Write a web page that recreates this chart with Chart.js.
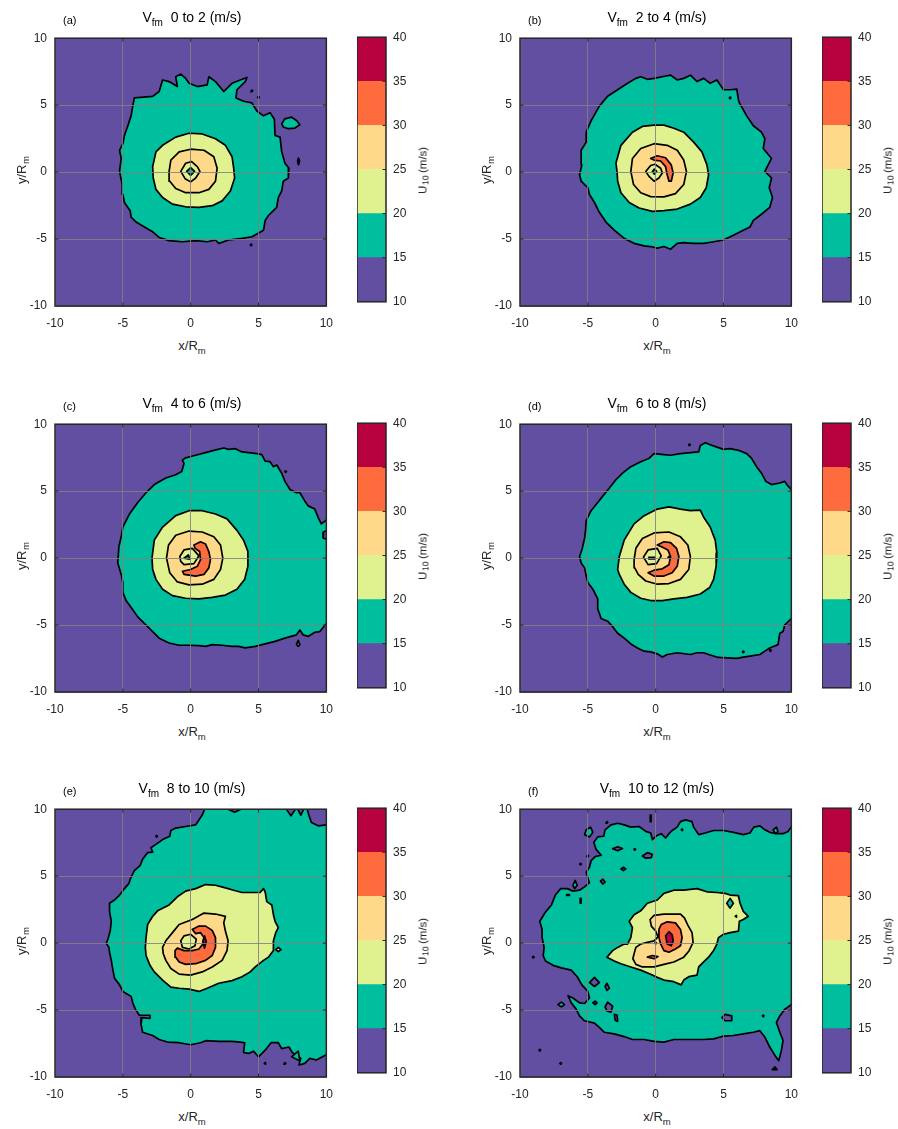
<!DOCTYPE html>
<html>
<head>
<meta charset="utf-8">
<script src="https://cdn.jsdelivr.net/npm/chart.js@4.4.1/dist/chart.umd.min.js"></script>
<style>
  body { margin: 0; background: #fff; width: 898px; height: 1129px; position: relative; overflow: hidden;
         font-family: "Liberation Sans", Arial, Helvetica, sans-serif; color: #000; }
  canvas { position: absolute; }
  .t { position: absolute; white-space: pre; line-height: 1; }
  .v { position: absolute; white-space: pre; line-height: 1; writing-mode: vertical-rl; transform: rotate(180deg); text-align: center; }
</style>
</head>
<body>
<script>
// ---- colour scale: U10 bands (m/s) ----
const levels = [10, 15, 20, 25, 30, 35, 40];
const bandColors = ['#634fa2', '#00bf9f', '#e0f28f', '#fed98a', '#fe6b3c', '#b8023f'];
const cbTicks = [10, 15, 20, 25, 30, 35, 40];
const axisTicks = [-10, -5, 0, 5, 10];

// ---- panel labels ----
const panelTags = ['(a)', '(b)', '(c)', '(d)', '(e)', '(f)'];
const speedBins = ['0 to 2', '2 to 4', '4 to 6', '6 to 8', '8 to 10', '10 to 12'];

// ---- contour polygons, flat [x, y, x, y, ...] in units of R_m ----
// (a) Vfm 0-2
const a15 = [-4.15,5.54, -2.80,5.66, -2.32,6.02, -2.07,6.88, -1.59,6.76, -0.98,6.39, -1.10,7.12, -0.73,7.32, -0.37,7.0, -0.12,6.63, 0.49,6.39, 1.22,6.51, 1.34,7.12, 1.83,6.76, 2.44,6.02, 3.05,6.63, 3.66,6.88, 4.15,7.07, 4.02,6.76, 3.41,6.15, 3.34,5.54, 3.90,5.29, 4.51,5.17, 4.88,4.56, 5.37,4.20, 5.85,4.44, 6.17,3.95, 6.22,2.73, 6.59,2.61, 6.71,1.51, 6.95,0.66, 7.24,0.29, 7.20,-0.44, 6.83,-0.68, 6.71,-1.41, 6.46,-1.90, 6.34,-2.63, 5.73,-3.24, 5.49,-3.61, 5.37,-4.34, 4.51,-4.83, 3.78,-4.95, 2.80,-5.07, 2.07,-5.32, 1.83,-5.07, 1.22,-5.20, 0.37,-5.12, -0.61,-5.20, -1.59,-5.12, -2.32,-4.88, -2.80,-4.46, -3.41,-4.10, -4.02,-3.73, -4.39,-3.37, -4.46,-2.88, -4.88,-2.27, -5.0,-1.66, -5.05,-0.93, -5.24,0.05, -5.12,1.02, -5.24,1.63, -5.0,2.12, -4.88,2.73, -4.63,3.46, -4.39,4.20, -4.27,4.93];
const a15isle = [6.71,3.61, 6.95,3.98, 7.44,4.10, 7.80,3.85, 8.05,3.54, 7.68,3.29, 7.20,3.24, 6.83,3.37];
const a15sliver = [7.95,1.05, 8.03,0.83, 7.95,0.55, 7.88,0.83];
const a20 = [-2.80,0.41, -2.56,1.51, -2.07,2.0, -1.10,2.61, -0.12,2.90, 0.85,2.85, 1.83,2.49, 2.56,2.0, 3.05,1.15, 3.17,0.29, 3.24,-0.44, 2.93,-1.41, 2.32,-2.15, 1.59,-2.51, 0.61,-2.63, -0.37,-2.59, -1.34,-2.39, -2.07,-1.90, -2.56,-1.29, -2.76,-0.44];
const a25 = [-1.59,0.05, -1.46,0.90, -0.85,1.51, 0,1.71, 0.98,1.63, 1.71,1.15, 1.95,0.29, 1.83,-0.68, 1.34,-1.29, 0.61,-1.54, -0.37,-1.54, -1.10,-1.22, -1.54,-0.68];
const a25eye = [-0.73,0.05, -0.37,0.66, 0.07,0.78, 0.49,0.41, 0.68,0.05, 0.37,-0.44, 0,-0.73, -0.41,-0.49];
const a20eye = [-0.29,0.05, 0,0.34, 0.29,0.05, 0,-0.24];
const aSpecks = [4.51,6.07, 5.0,5.59, 4.46,-5.44];

// (b) Vfm 2-4
const b15 = [-1.10,7.12, -0.61,6.93, -0.12,7.0, 0.49,7.12, 1.10,7.24, 1.59,6.88, 2.07,7.0, 2.56,7.24, 3.05,6.76, 3.54,7.0, 4.02,6.63, 4.51,6.88, 5.0,6.15, 5.49,6.15, 5.98,6.20, 6.10,5.41, 6.17,5.17, 6.71,4.20, 7.20,3.46, 7.80,2.98, 8.05,2.49, 7.93,1.76, 8.54,1.02, 8.17,0.29, 8.05,0.05, 8.54,-0.44, 8.37,-1.17, 8.61,-1.90, 8.41,-2.63, 7.68,-3.24, 7.20,-3.61, 6.95,-4.10, 6.46,-4.34, 5.73,-4.71, 5.0,-5.07, 4.27,-5.20, 3.54,-5.32, 2.80,-5.32, 2.07,-5.27, 1.59,-5.32, 1.10,-5.76, 0.61,-5.56, 0.12,-5.68, -0.37,-5.56, -0.85,-5.51, -1.59,-5.32, -2.32,-4.95, -3.05,-4.34, -3.66,-3.73, -4.15,-3.0, -4.51,-2.27, -4.88,-1.66, -5.0,-1.17, -5.49,-0.68, -5.61,-0.20, -5.44,0.54, -5.49,1.63, -5.12,2.24, -5.12,2.98, -4.76,3.83, -4.15,4.93, -3.54,5.66, -2.80,6.15, -2.07,6.63, -1.46,7.0];
const b20 = [-2.93,0.66, -2.56,2.0, -1.71,2.98, -0.98,3.41, -0.12,3.51, 0.61,3.51, 1.34,3.27, 2.07,2.98, 2.80,2.24, 3.41,1.51, 3.78,0.54, 3.90,-0.20, 3.73,-1.17, 3.29,-1.90, 2.56,-2.39, 1.59,-2.76, 0.61,-2.88, -0.24,-2.93, -1.22,-2.68, -1.95,-2.27, -2.56,-1.54, -2.80,-0.68, -2.85,0.05];
const b25 = [-1.83,0.05, -1.71,1.02, -1.10,1.76, -0.12,2.12, 0.85,2.0, 1.59,1.63, 2.07,0.90, 2.27,0.05, 2.07,-0.93, 1.46,-1.61, 0.61,-1.85, -0.37,-1.83, -1.10,-1.54, -1.63,-0.93];
const b30 = [-0.37,1.02, 0.12,1.22, 0.73,1.07, 1.15,0.54, 1.29,-0.07, 1.15,-0.68, 0.98,-0.68, 0.85,-0.20, 0.73,0.41, 0.37,0.83, -0.12,0.90];
const b25eye = [-0.73,0.05, -0.37,0.49, -0.05,0.59, 0.37,0.29, 0.49,-0.07, 0.24,-0.44, -0.12,-0.68, -0.49,-0.32];
const b20eye = [-0.24,0.05, -0.10,0.22, 0.07,0.05, -0.10,-0.15];
const bSpecks = [5.49,5.54];

// (c) Vfm 4-6
const c15 = [-0.66,6.46, -0.49,7.07, -0.61,7.32, -0.37,7.49, 0.37,7.68, 1.10,7.88, 1.71,8.05, 2.44,8.22, 2.80,8.12, 3.29,8.17, 3.78,7.93, 4.27,7.88, 4.88,7.80, 5.24,7.73, 5.49,7.24, 5.85,7.20, 6.10,6.83, 6.34,6.95, 6.71,6.34, 6.95,5.73, 7.32,5.12, 7.80,4.88, 8.05,4.88, 8.41,4.27, 8.66,3.90, 9.15,3.66, 9.39,3.05, 9.63,2.56, 10.02,2.85, 10.3,2.85, 10.3,-4.9, 10.0,-4.9, 9.51,-5.49, 9.15,-5.54, 8.66,-5.85, 8.29,-5.73, 8.05,-5.37, 7.80,-5.73, 6.95,-5.98, 6.22,-6.22, 5.49,-6.41, 4.76,-6.59, 4.02,-6.71, 3.54,-6.59, 3.05,-6.59, 2.32,-6.51, 1.59,-6.46, 1.10,-6.59, 0.61,-6.54, -0.12,-6.51, -0.85,-6.51, -1.59,-6.34, -2.32,-5.98, -2.80,-5.49, -3.41,-4.88, -3.90,-4.39, -4.32,-3.78, -4.76,-3.17, -5.0,-2.56, -5.0,-1.83, -5.12,-1.22, -5.37,-0.37, -5.29,0.85, -5.12,1.59, -5.0,2.32, -4.51,3.29, -3.90,4.15, -3.29,4.88, -2.68,5.49, -1.83,5.98, -1.10,6.22];
const c10notch = [10.3,2.2, 9.8,1.95, 9.76,1.5, 10.3,1.3];
const c15isle = [7.93,-6.15, 8.05,-6.45, 7.93,-6.6, 7.80,-6.45];
const c20 = [-2.85,0, -2.68,1.34, -2.07,2.32, -1.10,3.17, -0.12,3.54, 0.85,3.54, 1.83,3.29, 2.68,2.93, 3.41,2.07, 3.90,1.34, 4.22,0.49, 4.22,-0.61, 3.98,-1.59, 3.41,-2.32, 2.56,-2.76, 1.59,-2.93, 0.61,-3.05, -0.37,-3.0, -1.34,-2.80, -2.07,-2.32, -2.56,-1.59, -2.80,-0.85];
const c25 = [-1.78,0, -1.63,0.98, -1.10,1.71, -0.12,2.02, 0.85,1.95, 1.71,1.59, 2.20,0.98, 2.37,0, 2.20,-0.85, 1.71,-1.59, 0.85,-1.95, -0.12,-2.0, -0.98,-1.78, -1.54,-1.10];
const c30 = [0.24,0.98, 0.73,1.22, 1.10,1.05, 1.34,0.49, 1.46,-0.12, 1.34,-0.73, 0.98,-1.22, 0.37,-1.34, -0.49,-1.22, -0.61,-0.98, 0,-0.85, 0.49,-0.61, 0.73,-0.12, 0.66,0.49, 0.32,0.73];
const c25eye = [-0.80,0.12, -0.49,0.61, 0.12,0.73, 0.61,0.17, 0.24,-0.41, -0.49,-0.49, -0.73,-0.24];
const c20eye = [-0.49,0, -0.17,0.24, -0.07,-0.07];
const cSpecks = [7.0,6.46];

// (d) Vfm 6-8
const d15 = [-0.12,7.80, 0.61,7.73, 1.10,7.68, 1.83,7.80, 2.56,7.88, 3.17,7.93, 3.29,8.41, 3.66,8.61, 4.02,8.46, 4.51,8.29, 5.0,8.12, 5.49,8.17, 6.10,8.05, 6.71,7.80, 7.07,7.44, 7.44,6.83, 7.80,6.34, 8.12,5.73, 8.54,5.49, 9.15,5.61, 9.51,5.73, 9.76,5.37, 10.02,5.12, 10.3,5.12, 10.3,-4.51, 10.0,-4.51, 9.51,-5.0, 9.39,-5.49, 9.15,-5.61, 9.02,-6.46, 8.41,-6.71, 8.05,-6.95, 7.68,-7.20, 6.95,-7.32, 6.46,-7.39, 5.98,-7.49, 5.0,-7.44, 4.51,-7.39, 4.02,-7.24, 3.54,-7.07, 3.05,-7.07, 2.56,-7.20, 1.59,-7.07, 0.85,-7.20, 0.49,-7.39, 0.12,-7.15, -0.37,-7.0, -0.85,-6.95, -1.34,-6.71, -1.83,-6.41, -2.32,-5.98, -2.80,-5.61, -3.17,-5.12, -3.54,-4.71, -4.02,-4.51, -4.27,-3.78, -4.27,-3.05, -4.63,-2.32, -5.0,-1.83, -5.12,-1.34, -5.24,-0.73, -5.49,-0.37, -5.61,0.12, -5.44,0.61, -5.24,1.46, -5.17,2.07, -5.12,2.80, -4.76,3.54, -4.27,4.15, -3.90,4.63, -3.41,5.24, -2.93,5.85, -2.44,6.34, -1.83,6.83, -1.10,7.20, -0.49,7.44];
const d20 = [-2.80,-0.85, -2.68,0.12, -2.32,1.34, -1.59,2.56, -0.85,3.17, 0.12,3.66, 0.98,3.83, 1.83,3.66, 2.56,3.54, 3.29,3.59, 3.54,3.05, 4.02,2.32, 4.39,1.34, 4.51,0.37, 4.46,-0.61, 4.27,-1.59, 3.98,-2.20, 3.29,-2.68, 2.32,-2.93, 1.34,-3.05, 0.49,-3.17, -0.37,-3.17, -1.10,-3.0, -1.83,-2.56, -2.32,-1.95, -2.68,-1.22];
const d25 = [-1.59,-0.12, -1.46,0.73, -0.98,1.46, -0.12,1.88, 0.98,1.95, 1.83,1.59, 2.37,0.98, 2.56,0.12, 2.44,-0.85, 1.83,-1.59, 0.98,-1.90, 0.12,-1.95, -0.73,-1.71, -1.29,-1.22, -1.54,-0.73];
const d30 = [0.12,0.98, 0.61,1.22, 1.10,1.15, 1.54,0.73, 1.71,0.12, 1.59,-0.61, 1.22,-1.10, 0.61,-1.34, -0.12,-1.34, -0.56,-1.10, -0.12,-0.90, 0.49,-0.80, 0.98,-0.49, 1.10,0.12, 0.90,0.61, 0.54,0.80];
const d25eye = [-0.90,0.07, -0.56,0.61, 0.12,0.73, 0.41,0.17, 0.07,-0.41, -0.56,-0.49];
const d20eye = [-0.5,0.06, -0.05,0.06, -0.05,-0.06, -0.5,-0.06];
const dSpecks15 = [2.49,8.46];
const dSpecks10 = [6.46,-7.0, 8.46,-6.9];
const dSpecks25 = [0.98,0.07];

// (e) Vfm 8-10
const e15 = [1.0,10.3, 0.98,9.88, 0.85,9.56, 0.61,9.20, 0.37,8.83, -0.37,8.71, -1.10,8.59, -1.46,8.41, -1.54,7.98, -2.07,7.73, -2.56,7.37, -2.93,7.12, -2.80,6.80, -3.17,6.76, -3.54,6.27, -3.73,5.78, -4.15,5.41, -4.39,4.93, -4.56,4.44, -4.88,4.07, -5.24,3.59, -5.61,3.22, -5.98,2.98, -5.98,2.37, -5.85,1.63, -5.93,0.90, -6.10,0.29, -6.22,-0.02, -6.02,-0.32, -5.98,-0.68, -5.85,-1.29, -5.73,-2.02, -5.61,-2.63, -5.24,-3.12, -5.0,-3.61, -4.39,-3.98, -4.27,-4.46, -4.07,-4.95, -3.78,-5.39, -3.0,-5.39, -3.0,-5.63, -3.59,-5.56, -3.66,-6.05, -3.54,-6.66, -2.80,-6.90, -2.32,-7.20, -1.71,-7.39, -0.85,-7.44, 0,-7.59, 0.73,-7.44, 1.10,-7.29, 2.07,-7.34, 3.05,-7.34, 3.66,-7.39, 3.98,-7.44, 3.90,-8.17, 4.27,-8.24, 4.63,-8.07, 5.0,-8.49, 5.49,-8.0, 5.93,-7.44, 6.46,-7.44, 6.71,-7.88, 7.24,-7.76, 7.49,-8.17, 8.12,-8.61, 7.98,-9.10, 8.41,-8.98, 8.78,-8.61, 9.27,-8.73, 10.02,-8.32, 10.3,-8.3, 10.3,8.83, 10.02,8.83, 9.39,8.76, 8.90,9.0, 8.71,9.56, 8.61,9.93, 8.61,10.3, 8.29,10.3, 8.29,9.93, 8.12,9.56, 7.93,9.93, 7.93,10.3, 7.68,10.3, 7.68,9.93, 7.39,9.51, 7.10,9.93, 7.10,10.3, 3.66,10.3, 3.66,9.98, 3.24,9.78, 2.80,9.98, 2.80,10.3];
const e20 = [-3.29,0.41, -3.17,1.39, -2.80,2.0, -2.44,2.41, -1.59,2.85, -0.98,3.46, -0.37,3.88, 0.37,4.07, 1.10,4.37, 1.83,4.32, 2.56,4.12, 3.17,3.95, 3.78,3.78, 4.51,3.78, 5.12,3.78, 5.37,4.07, 5.49,3.83, 5.61,3.10, 5.98,2.85, 6.10,2.12, 6.22,1.63, 6.46,1.15, 6.27,0.78, 6.10,0.17, 6.10,-0.56, 5.73,-1.05, 5.37,-1.29, 4.76,-1.78, 4.39,-2.15, 3.78,-2.51, 3.05,-2.80, 2.07,-3.0, 1.22,-3.37, 0.61,-3.61, -0.12,-3.44, -0.85,-3.37, -1.46,-3.29, -2.07,-2.76, -2.68,-2.15, -3.0,-1.66, -3.29,-0.93, -3.34,-0.32];
const e20isle = [6.27,-0.49, 6.46,-0.32, 6.66,-0.49, 6.46,-0.63];
const e25 = [-2.07,-0.32, -1.83,0.17, -1.34,0.78, -0.85,1.39, 0.12,1.76, 0.98,2.24, 1.83,2.17, 2.56,2.0, 2.44,1.51, 2.56,0.90, 2.76,0.17, 2.68,-0.56, 2.32,-1.29, 1.59,-1.78, 0.85,-2.15, 0,-2.39, -0.85,-2.32, -1.46,-1.90, -1.83,-1.29, -2.02,-0.80];
const e30 = [0.12,1.02, 0.61,1.27, 1.10,1.27, 1.59,0.95, 1.83,0.41, 1.83,-0.32, 1.59,-0.93, 1.10,-1.29, 0.37,-1.54, -0.37,-1.59, -0.85,-1.41, -1.10,-1.05, -1.15,-0.56, -0.98,-0.37, -0.49,-0.56, 0.12,-0.56, 0.61,-0.44, 0.90,-0.07, 0.98,0.41, 0.73,0.78, 0.37,0.71];
const e35 = [0.90,0.12, 1.02,0.54, 1.15,0.12, 1.02,-0.37];
const e25eye = [-0.73,0.17, -0.49,0.54, 0,0.66, 0.41,0.29, 0.32,-0.20, -0.12,-0.44, -0.61,-0.32];
const e15tri = [7.44,-8.49, 7.93,-8.07, 8.05,-8.80];
const eSpecks = [-2.51,7.98, 5.49,-8.98, 6.95,-8.98];

// (f) Vfm 10-12
const f15 = [-8.54,1.63, -8.37,1.02, -8.37,0.41, -8.22,-0.32, -8.29,-0.93, -8.12,-1.34, -7.56,-1.66, -6.95,-1.85, -6.22,-2.02, -5.78,-2.51, -5.44,-3.12, -5.0,-3.61, -4.88,-4.10, -5.24,-4.51, -5.61,-4.46, -6.10,-4.10, -6.46,-3.93, -6.22,-4.46, -5.85,-4.95, -5.61,-5.44, -5.24,-5.80, -4.51,-5.98, -4.15,-6.29, -3.78,-6.66, -3.05,-6.78, -2.32,-6.98, -1.71,-7.20, -0.85,-7.20, -0.12,-7.34, 0.61,-7.39, 1.34,-7.20, 2.07,-7.20, 2.80,-7.20, 3.54,-7.20, 4.27,-7.15, 5.0,-6.95, 5.73,-6.90, 6.46,-6.78, 7.20,-6.66, 7.68,-6.54, 8.05,-7.02, 8.41,-7.76, 8.78,-8.37, 9.07,-8.78, 9.27,-8.0, 9.39,-7.27, 9.15,-6.66, 8.90,-5.93, 9.15,-5.44, 9.51,-4.95, 10.02,-4.59, 10.3,-4.59, 10.3,8.71, 10.02,8.71, 9.76,8.34, 9.39,8.17, 8.90,8.17, 8.41,8.27, 8.05,8.46, 7.68,8.76, 7.24,8.66, 6.95,8.22, 6.46,8.10, 5.73,8.27, 5.0,8.41, 4.27,8.41, 3.66,8.22, 3.17,8.10, 2.80,8.66, 2.68,9.07, 2.20,9.20, 1.83,9.07, 1.59,8.66, 1.22,8.41, 0.98,8.17, 0.73,7.85, 0.41,8.17, 0.07,8.02, -0.24,7.73, -0.37,8.22, -0.73,8.34, -1.22,8.71, -1.83,8.66, -2.32,8.83, -2.80,8.95, -3.29,8.83, -3.73,8.46, -3.83,7.98, -4.27,7.93, -4.56,7.54, -4.39,7.0, -4.02,6.56, -4.46,6.46, -4.76,6.15, -4.88,5.66, -5.12,5.29, -5.0,4.85, -4.88,4.51, -5.24,4.20, -5.61,3.95, -6.10,3.88, -6.51,4.07, -7.0,4.07, -7.39,3.59, -7.68,2.85, -8.12,2.32];
const f15isleA = [-5.12,8.46, -4.80,8.66, -4.63,8.27, -4.88,7.93, -5.24,8.10];
const f15isleB = [8.66,8.46, 8.90,8.66, 9.02,8.34, 8.83,8.17];
const f15isleC = [-6.10,4.32, -5.93,4.68, -5.78,4.32, -5.98,4.07];
const f15isleD = [-7.20,-4.59, -6.95,-4.41, -6.71,-4.59, -6.95,-4.76];
const f15isleE = [8.6,-9.45, 8.8,-9.25, 8.95,-9.45];
const f15dash = [-0.40,9.56, -0.34,9.56, -0.34,9.07, -0.40,9.07];
const f10isleA = [-3.17,7.05, -2.80,7.20, -2.44,7.07, -2.80,6.90];
const f10isleB = [-0.98,6.51, -0.61,6.76, -0.24,6.63, -0.32,6.39, -0.73,6.34];
const f10isleC = [-2.56,5.54, -2.37,5.66, -2.20,5.54, -2.37,5.41];
const f10isleD = [-4.07,4.63, -3.90,4.78, -3.73,4.56, -3.90,4.41];
const f10dashA = [-6.56,3.62, -6.36,3.62, -6.36,3.56, -6.56,3.56];
const f10dashB = [-5.56,3.34, -5.50,3.34, -5.50,2.98, -5.56,2.98];
const f10isleE = [-4.88,-2.95, -4.51,-2.56, -4.15,-2.95, -4.51,-3.24];
const f10isleF = [-3.73,-3.24, -3.59,-3.0, -3.41,-3.37, -3.59,-3.54];
const f10isleG = [-4.63,-4.46, -4.46,-4.34, -4.32,-4.46, -4.46,-4.59];
const f10isleH = [-3.73,-4.76, -3.54,-4.41, -3.17,-4.71, -3.29,-5.15, -3.59,-5.07];
const f10isleI = [-3.05,-5.32, -2.85,-5.37, -2.80,-5.85, -2.98,-5.76];
const f10isleJ = [4.88,-5.56, 5.12,-5.32, 5.61,-5.44, 5.61,-5.80, 5.12,-5.80];
const f20 = [-3.59,-1.05, -3.17,-0.56, -2.80,-0.32, -2.32,-0.07, -2.07,-0.07, -1.83,0.41, -1.71,1.15, -1.95,1.63, -1.59,2.12, -1.10,2.41, -0.61,2.98, 0.12,3.22, 0.61,3.71, 1.34,3.95, 2.07,3.95, 3.05,4.07, 3.78,3.83, 4.51,3.78, 5.12,3.71, 5.49,3.59, 6.10,3.54, 6.22,2.98, 6.46,2.37, 6.83,2.0, 6.46,1.76, 6.17,1.63, 6.10,0.90, 5.49,0.78, 5.0,0.66, 4.63,0.41, 4.51,-0.07, 4.27,-0.56, 3.90,-1.05, 3.54,-1.41, 3.17,-1.78, 3.05,-2.39, 2.44,-2.51, 2.07,-2.76, 1.88,-3.12, 1.34,-2.88, 0.61,-2.76, 0.12,-2.56, -0.37,-2.32, -1.10,-2.02, -1.83,-1.78, -2.56,-1.54, -3.05,-1.34];
const f15inner = [5.24,2.98, 5.49,3.34, 5.73,2.98, 5.49,2.61];
const f25 = [-1.59,-0.80, -1.46,-0.32, -1.10,-0.07, -0.61,0.05, -0.12,0.17, 0.17,0.46, 0,0.90, -0.32,1.27, -0.41,1.76, -0.12,2.07, 0.61,2.17, 1.83,2.17, 2.12,1.88, 2.37,1.34, 2.68,0.78, 2.76,0.05, 2.44,-0.61, 2.07,-1.05, 1.34,-1.41, 0.61,-1.59, -0.12,-1.78, -0.98,-1.78, -1.46,-1.59, -1.68,-1.17];
const f30small = [-0.61,-1.05, -0.24,-0.93, 0.17,-1.0, -0.12,-1.17];
const f30 = [0.24,1.02, 0.41,1.39, 0.85,1.59, 1.46,1.51, 1.83,1.02, 1.95,0.41, 1.83,-0.20, 1.46,-0.44, 0.98,-0.68, 0.61,-0.56, 0.37,-0.07, 0.24,0.41];
const f35 = [0.73,0.54, 0.98,0.85, 1.22,0.61, 1.29,0.17, 1.15,-0.20, 0.85,-0.07];
const fSpecks15 = [-3.59,9.02, -5.54,5.90, -5.0,6.51, -9.02,-1.05, -8.54,-8.0, -7.0,-8.98];
const fSpecks10 = [-1.54,7.0, 1.95,8.46, 7.93,-5.44, 0,0];
const fSpecks20 = [5.93,2.0];

// ---- drawing order per panel: [band lower bound, polygon] ----
const contoursA = [[15, a15], [15, a15isle], [15, a15sliver], [20, a20], [25, a25], [20, a25eye], [15, a20eye]];
const contoursB = [[15, b15], [20, b20], [25, b25], [30, b30], [20, b25eye], [15, b20eye]];
const contoursC = [[15, c15], [10, c10notch], [15, c15isle], [20, c20], [25, c25], [30, c30], [20, c25eye], [15, c20eye]];
const contoursD = [[15, d15], [20, d20], [25, d25], [30, d30], [20, d25eye], [15, d20eye]];
const contoursE = [[15, e15], [15, e15tri], [20, e20], [20, e20isle], [25, e25], [30, e30], [35, e35], [20, e25eye]];
const contoursF = [[15, f15], [15, f15isleA], [15, f15isleB], [15, f15isleC], [15, f15isleD], [15, f15isleE], [15, f15dash],
  [10, f10isleA], [10, f10isleB], [10, f10isleC], [10, f10isleD], [10, f10dashA], [10, f10dashB], [10, f10isleE],
  [10, f10isleF], [10, f10isleG], [10, f10isleH], [10, f10isleI], [10, f10isleJ],
  [20, f20], [15, f15inner], [25, f25], [30, f30small], [30, f30], [35, f35]];
const specksA = [[15, aSpecks]];
const specksB = [[10, bSpecks]];
const specksC = [[15, cSpecks]];
const specksD = [[15, dSpecks15], [10, dSpecks10], [25, dSpecks25]];
const specksE = [[15, eSpecks]];
const specksF = [[15, fSpecks15], [10, fSpecks10], [20, fSpecks20]];

const panelContours = [contoursA, contoursB, contoursC, contoursD, contoursE, contoursF];
const panelSpecks = [specksA, specksB, specksC, specksD, specksE, specksF];

// ---- page geometry ----
const FONT = '"Liberation Sans", Arial, Helvetica, sans-serif';
const INK = '#262626';
const GRID = 'rgba(128,128,128,0.85)';
const COL_X = [55, 520];
const ROW_Y = [33, 419, 804];
const PW = 274, PH = 273;
const CB_DX = 302, CB_W = 29;

Chart.defaults.font.family = FONT;

function bandColor(v) { return bandColors[levels.indexOf(v)]; }

function polygon(flat) {
  const pts = [];
  for (let i = 0; i < flat.length; i += 2) pts.push({ x: flat[i], y: flat[i + 1] });
  pts.push({ x: flat[0], y: flat[1] });
  return pts;
}
function speck(x, y) {
  const r = 0.06;
  return [{ x: x - r, y }, { x, y: y + r }, { x: x + r, y }, { x, y: y - r }, { x: x - r, y }];
}
function lineSet(pts, band) {
  return {
    data: pts, showLine: true, backgroundColor: bandColor(band),
    borderColor: '#000', borderWidth: 1.7, borderJoinStyle: 'round', borderCapStyle: 'round',
    pointRadius: 0, pointHoverRadius: 0, tension: 0, fill: false, clip: 0
  };
}

// fills each contour polygon under its own outline, on a purple base
const contourFill = {
  id: 'contourFill',
  beforeDatasetsDraw(chart) {
    const { ctx, chartArea: a } = chart;
    ctx.save();
    ctx.fillStyle = bandColors[0];
    ctx.fillRect(a.left, a.top, a.width, a.height);
    ctx.restore();
  },
  beforeDatasetDraw(chart, args) {
    const { ctx, chartArea: a } = chart;
    const pts = args.meta.data;
    if (!pts.length) return;
    ctx.save();
    ctx.beginPath();
    ctx.rect(a.left, a.top, a.width, a.height);
    ctx.clip();
    ctx.beginPath();
    pts.forEach((p, i) => (i ? ctx.lineTo(p.x, p.y) : ctx.moveTo(p.x, p.y)));
    ctx.closePath();
    ctx.fillStyle = chart.data.datasets[args.index].backgroundColor;
    ctx.fill();
    ctx.restore();
  }
};

// axes box with short inward ticks on all four sides
const boxTicks = {
  id: 'boxTicks',
  afterDraw(chart) {
    const { ctx, chartArea: a, scales } = chart;
    ctx.save();
    ctx.strokeStyle = INK;
    ctx.lineWidth = 1;
    const L = 3.5;
    if (scales.x && scales.x.options.display !== false) {
      scales.x.ticks.forEach(t => {
        const px = scales.x.getPixelForValue(t.value);
        if (px <= a.left + 1 || px >= a.right - 1) return;
        ctx.beginPath();
        ctx.moveTo(px, a.bottom); ctx.lineTo(px, a.bottom - L);
        ctx.moveTo(px, a.top); ctx.lineTo(px, a.top + L);
        ctx.stroke();
      });
    }
    if (scales.y) {
      const both = chart.config.type !== 'bar';
      scales.y.ticks.forEach(t => {
        const py = scales.y.getPixelForValue(t.value);
        if (py <= a.top + 1 || py >= a.bottom - 1) return;
        ctx.beginPath();
        ctx.moveTo(a.right, py); ctx.lineTo(a.right - L, py);
        if (both) { ctx.moveTo(a.left, py); ctx.lineTo(a.left + L, py); }
        ctx.stroke();
      });
    }
    ctx.lineWidth = 1.5;
    ctx.strokeRect(a.left, a.top, a.width, a.height);
    ctx.restore();
  }
};

function addCanvas(w, h, left, top) {
  const cv = document.createElement('canvas');
  cv.width = w; cv.height = h;
  cv.style.width = w + 'px'; cv.style.height = h + 'px';
  cv.style.left = left + 'px'; cv.style.top = top + 'px';
  document.body.appendChild(cv);
  return cv;
}

function makeContour(px, py, contours, specks) {
  const padL = 44, padT = 10, padR = 14, padB = 30;
  const cv = addCanvas(PW + padL + padR, PH + padT + padB, px - padL, py - padT);
  const sets = [];
  contours.forEach(([band, flat]) => sets.push(lineSet(polygon(flat), band)));
  specks.forEach(([band, flat]) => {
    for (let i = 0; i < flat.length; i += 2) sets.push(lineSet(speck(flat[i], flat[i + 1]), band));
  });
  sets.reverse(); // first dataset is painted last
  const tickFont = { family: FONT, size: 12 };
  new Chart(cv, {
    type: 'scatter',
    data: { datasets: sets },
    options: {
      responsive: false, animation: false, events: [], devicePixelRatio: 1,
      layout: { padding: { left: 0, top: padT, right: padR, bottom: 0 } },
      plugins: { legend: { display: false }, tooltip: { enabled: false } },
      scales: {
        x: {
          type: 'linear', min: -10, max: 10,
          afterBuildTicks: s => { s.ticks = axisTicks.map(v => ({ value: v })); },
          afterFit: s => { s.height = padB; },
          grid: { color: GRID, lineWidth: 1, drawTicks: false, z: 1 },
          border: { display: false },
          ticks: { padding: 10, color: INK, font: tickFont, maxRotation: 0, autoSkip: false }
        },
        y: {
          type: 'linear', min: -10, max: 10,
          afterBuildTicks: s => { s.ticks = axisTicks.map(v => ({ value: v })); },
          afterFit: s => { s.width = padL; },
          grid: { color: GRID, lineWidth: 1, drawTicks: false, z: 1 },
          border: { display: false },
          ticks: { padding: 8, color: INK, font: tickFont, autoSkip: false }
        }
      }
    },
    plugins: [contourFill, boxTicks]
  });
}

function makeColorbar(px, py) {
  const padR = 40, padT = 10, padB = 10;
  const cv = addCanvas(CB_W + padR, PH + padT + padB, px, py - padT);
  const sets = bandColors.map((c, i) => ({
    data: [[levels[i], levels[i + 1]]], backgroundColor: c, borderWidth: 0,
    grouped: false, barPercentage: 1, categoryPercentage: 1
  }));
  new Chart(cv, {
    type: 'bar',
    data: { labels: ['U10'], datasets: sets },
    options: {
      responsive: false, animation: false, events: [], devicePixelRatio: 1,
      layout: { padding: { left: 0, top: padT, right: 0, bottom: padB } },
      plugins: { legend: { display: false }, tooltip: { enabled: false } },
      scales: {
        x: { display: false },
        y: {
          position: 'right', min: 10, max: 40,
          afterBuildTicks: s => { s.ticks = cbTicks.map(v => ({ value: v })); },
          afterFit: s => { s.width = padR; },
          grid: { display: false, drawTicks: false },
          border: { display: false },
          ticks: { padding: 7, color: INK, font: { family: FONT, size: 12 } }
        }
      }
    },
    plugins: [boxTicks]
  });
}

function addText(html, x, baseline, size, align, color) {
  const d = document.createElement('div');
  d.className = 't';
  d.innerHTML = html;
  d.style.fontSize = size + 'px';
  d.style.color = color || '#000';
  d.style.top = (baseline - 0.846 * size) + 'px';
  if (align === 'center') {
    d.style.width = '300px'; d.style.textAlign = 'center'; d.style.left = (x - 150) + 'px';
  } else {
    d.style.left = x + 'px';
  }
  document.body.appendChild(d);
}
// vertical text reading bottom to top, centred on (cx, cy)
function addVText(html, cx, cy, size, color) {
  const d = document.createElement('div');
  d.className = 'v';
  d.innerHTML = html;
  d.style.fontSize = size + 'px';
  d.style.color = color || '#000';
  d.style.height = '200px'; d.style.width = size + 'px';
  d.style.left = (cx - size / 2) + 'px'; d.style.top = (cy - 100) + 'px';
  document.body.appendChild(d);
}
const sub = (s, size, drop) => `<span style="font-size:${size}px;position:relative;top:${drop}px">${s}</span>`;
// in the flipped vertical block, a lowered subscript moves towards negative x
const vsub = (s, size, drop) => `<span style="font-size:${size}px;position:relative;left:${-drop}px">${s}</span>`;

panelTags.forEach((tag, i) => {
  const px = COL_X[i % 2], py = ROW_Y[Math.floor(i / 2)];
  const cx = px + PW / 2, cy = py + PH / 2;
  makeContour(px, py, panelContours[i], panelSpecks[i]);
  makeColorbar(px + CB_DX, py);
  addText(`V${sub('fm', 10, 4)}  ${speedBins[i]} (m/s)`, cx, py - 11, 14, 'center');
  addText(tag, px + 8, py - 8.5, 11, 'left');
  addText(`x/R${sub('m', 9.5, 4)}`, cx, py + PH + 44, 13, 'center', INK);
  addVText(`y/R${vsub('m', 9.5, 4)}`, px - 34, cy, 13, INK);
  addVText(`U${vsub('10', 8.5, 3)} (m/s)`, px + CB_DX + CB_W + 38, cy, 11.5, INK);
});
</script>
</body>
</html>
